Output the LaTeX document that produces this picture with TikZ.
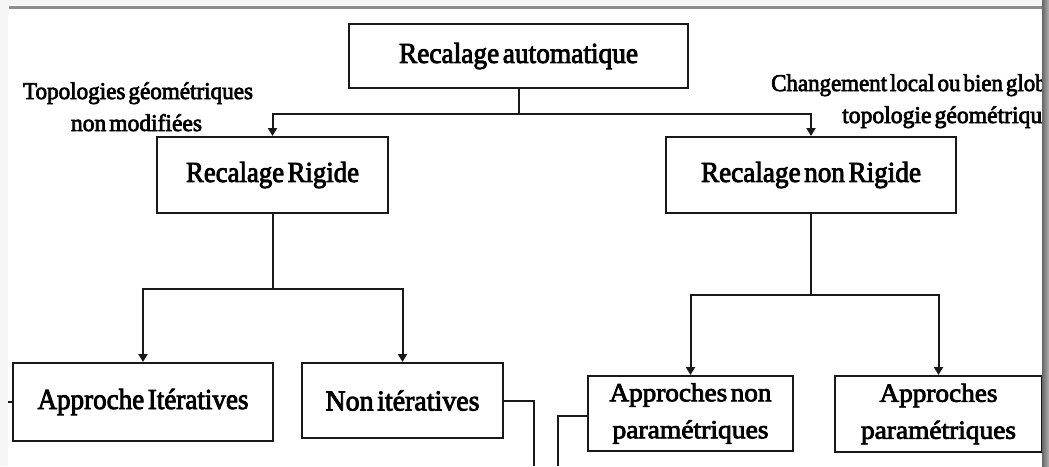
\documentclass[tikz,border=0pt]{standalone}
\usepackage{fontspec}
\setmainfont{Liberation Serif}[FakeBold=3]
\usetikzlibrary{arrows.meta}
% squeeze a line of text to a given width, keeping its height; words set close together
\newcommand{\sq}[2]{\resizebox{#1pt}{\height}{\spaceskip=0.13em\relax #2}}
\begin{document}
\begin{tikzpicture}[x=1pt,y=-1pt,
  box/.style={draw=black!90, line width=2pt, rectangle, inner sep=0pt, align=center},
  link/.style={draw=black!90, line width=2pt},
  arr/.style={link, -{Triangle[width=9pt,length=8pt]}},
  big/.style={font=\fontsize{29}{32}\selectfont},
  small/.style={font=\fontsize{24}{28}\selectfont},
  two/.style={font=\fontsize{26}{37}\selectfont},
  note/.style={small, inner sep=0pt}]

\useasboundingbox (0,0) rectangle (1049,466);
\fill[white] (0,0) rectangle (1049,466);

% boxes
\node[box, big, minimum width=339pt, minimum height=64pt] (top) at (518.5,56) {\sq{239}{Recalage automatique}};
\node[box, big, minimum width=231pt, minimum height=76pt] (rigid) at (272.5,175) {\sq{173}{Recalage Rigide}};
\node[box, big, minimum width=290pt, minimum height=76pt] (nonrigid) at (811,175) {\sq{220}{Recalage non Rigide}};
\node[box, big, minimum width=260pt, minimum height=78pt] (iter) at (143,402) {\sq{211}{Approche Itératives}};
\node[box, big, minimum width=201pt, minimum height=75pt] (noniter) at (402.5,400.5) {\sq{154}{Non itératives}};
\node[box, two, minimum width=205pt, minimum height=75pt] (nonparam) at (690.5,413.5) {\sq{162}{Approches non}\\\sq{156}{paramétriques}};
\node[box, two, minimum width=207pt, minimum height=76pt] (param) at (938.5,414) {\sq{118}{Approches}\\\sq{155}{paramétriques}};

% side notes
\node[note, anchor=base] (lnote1) at (138,99) {\sq{230}{Topologies géométriques}};
\node[note, anchor=base] (lnote2) at (136.5,131) {\sq{131}{non modifiées}};
\begin{scope}
  \clip (0,0) rectangle (1042,466);
  \node[note, anchor=base west] (rnote1) at (771,91) {\scalebox{0.955}[1]{\spaceskip=0.13em\relax Changement local ou bien global}};
  \node[note, anchor=base west] (rnote2) at (842,123) {\scalebox{0.985}[1]{\spaceskip=0.13em\relax topologie géométrique}};
\end{scope}

% tree connectors
\draw[link] (top.south) -- ++(0,25) coordinate (tj);
\draw[arr] (tj) -| (rigid.north);
\draw[arr] (tj) -| (nonrigid.north);
\draw[link] (rigid.south) -- ++(0,75) coordinate (rj);
\draw[arr] (rj) -| (iter.north);
\draw[arr] (rj) -| (noniter.north);
\draw[link] (nonrigid.south) -- ++(0,81) coordinate (nj);
\draw[arr] (nj) -| (nonparam.north);
\draw[arr] (nj) -| (param.north);

% connectors running off the page
\coordinate (niout) at (534,466);
\coordinate (npout) at (558,466);
\coordinate (itout) at (8,402);
\draw[link] (noniter.east) -| (niout);
\draw[link] ([yshift=-2.5pt]nonparam.west) -| (npout);
\draw[link] (iter.west) -- (itout);

% frame
\fill[black!4] (0,0) rectangle (1049,5);
\fill[black!4] (0,0) rectangle (8,466);
\draw[black!45, line width=3pt] (9,7) -- (1043,7);
\shade[left color=black!60, right color=black!30] (1042,0) rectangle (1049,466);
\end{tikzpicture}
\end{document}
